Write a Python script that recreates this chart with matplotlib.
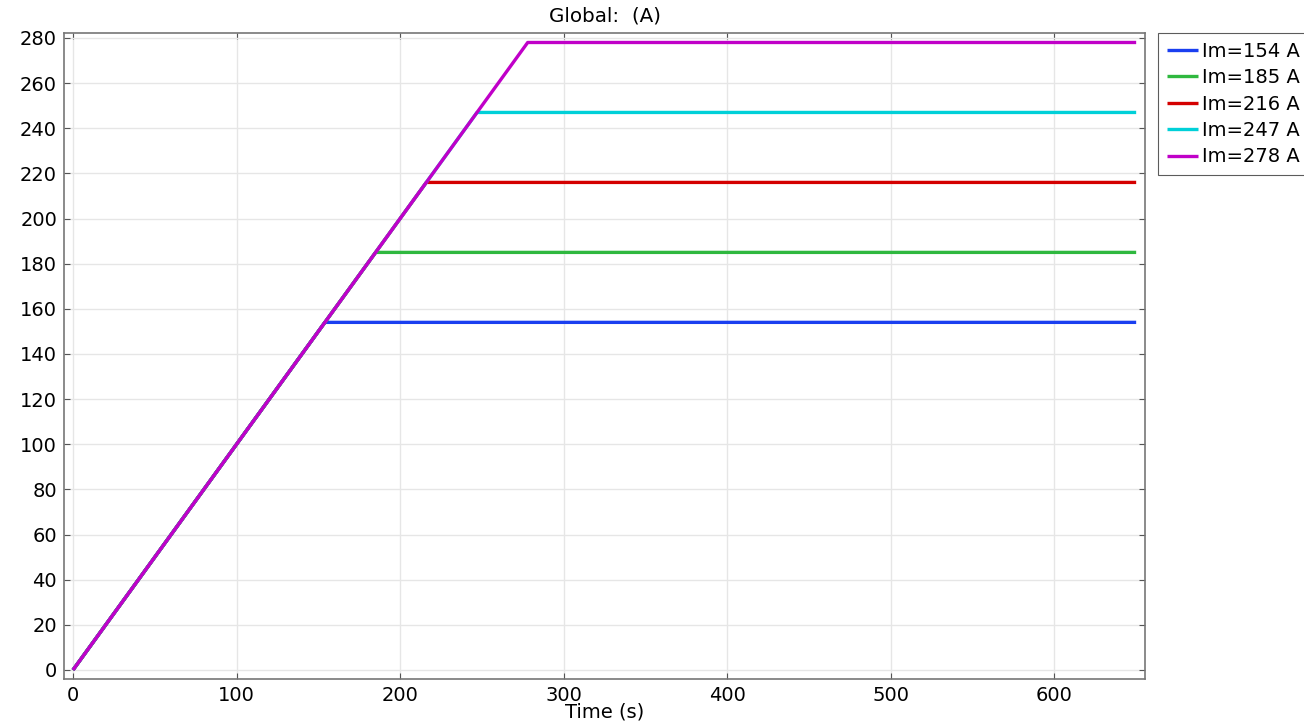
import matplotlib
matplotlib.use("Agg")
import matplotlib.pyplot as plt
import numpy as np

# Peak currents (A); current ramps at 1 A/s then holds
peak_currents = [154, 185, 216, 247, 278]
series_labels = ["Im=154 A", "Im=185 A", "Im=216 A", "Im=247 A", "Im=278 A"]
series_colors = ["#1a3ff0", "#2fb83f", "#d40000", "#00d0d8", "#c000c8"]
ramp_rate = 1.0        # A/s
t_end = 650.0          # s
x_ticks = [0, 100, 200, 300, 400, 500, 600]
y_ticks = list(range(0, 281, 20))

fig = plt.figure(figsize=(13.04, 7.25), dpi=100)
ax = fig.add_axes([64 / 1304, 1 - 679 / 725, (1145 - 64) / 1304, (679 - 33) / 725])

for im, lab, col in zip(peak_currents, series_labels, series_colors):
    t_peak = im / ramp_rate
    t = np.array([0.0, t_peak, t_end])
    i = np.array([0.0, im, im])
    ax.plot(t, i, color=col, lw=2.4, label=lab, solid_capstyle="butt")

ax.set_xlim(-5.5, 655.4)
ax.set_ylim(-4.0, 282.2)
ax.set_xticks(x_ticks)
ax.set_yticks(y_ticks)
ax.grid(True, color="#e6e6e6", lw=1.0)
ax.set_axisbelow(True)
ax.tick_params(direction="in", top=True, right=True, labelsize=14,
               length=4, color="#555555", pad=5)
for s in ax.spines.values():
    s.set_color("#777777")
    s.set_linewidth(1.2)

ax.set_title("Global:  (A)", fontsize=14.3, pad=8)
ax.set_xlabel("Time (s)", fontsize=14, labelpad=-2)

leg = ax.legend(loc="upper left", bbox_to_anchor=(1.012, 1.0), fontsize=14.0,
                frameon=True, fancybox=False, edgecolor="#333333",
                handlelength=1.6, handletextpad=0.2, borderpad=0.45,
                labelspacing=0.38, borderaxespad=0)
leg.get_frame().set_linewidth(0.8)

fig.savefig("out.png", dpi=100)
